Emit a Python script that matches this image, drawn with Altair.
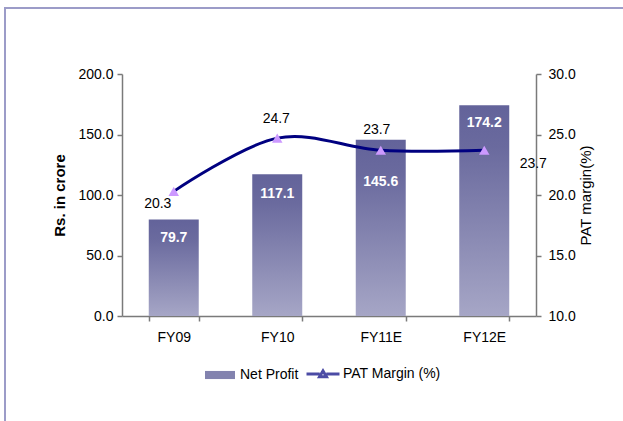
import altair as alt
import pandas as pd

# Yearly figures
categories = ["FY09", "FY10", "FY11E", "FY12E"]
net_profit = [79.7, 117.1, 145.6, 174.2]      # Rs. in crore
pat_margin = [20.3, 24.7, 23.7, 23.7]         # %

df = pd.DataFrame({"year": categories, "profit": net_profit, "margin": pat_margin})

FONT = "Liberation Sans"
AXIS_GREY = "#7a7a7a"
LINE_BLUE = "#000080"
MARKER = "#cc99ff"
BAR_TOP = "#63639a"
BAR_BOTTOM = "#a6a6c6"

bar_gradient = alt.Gradient(
    gradient="linear",
    stops=[
        alt.GradientStop(color=BAR_TOP, offset=0),
        alt.GradientStop(color="#6a6a9e", offset=0.2),
        alt.GradientStop(color=BAR_BOTTOM, offset=1),
    ],
    x1=0, x2=0, y1=0, y2=1,
)

x_enc = alt.X(
    "year:N",
    sort=categories,
    title=None,
    scale=alt.Scale(paddingInner=0.517, paddingOuter=0.2585),
    axis=alt.Axis(
        labelAngle=0, tickBand="extent", tickSize=5, labelPadding=9,
        labelFontSize=14, labelColor="black", domainColor=AXIS_GREY,
        tickColor=AXIS_GREY, domainWidth=1.5, tickWidth=1.5,
    ),
)

profit_scale = alt.Scale(domain=[0, 200])
margin_scale = alt.Scale(domain=[10, 30])

# ---- left axis: net profit bars ----
bars = alt.Chart(df).mark_bar(color=bar_gradient).encode(
    x=x_enc,
    y=alt.Y(
        "profit:Q", scale=profit_scale, title="Rs. in crore",
        axis=alt.Axis(
            values=[0, 50, 100, 150, 200], format=".1f", grid=False,
            tickSize=5, labelPadding=4, labelFontSize=14, labelColor="black",
            domainColor=AXIS_GREY, tickColor=AXIS_GREY, domainWidth=1.5, tickWidth=1.5,
            titleFontSize=15, titleFontWeight="bold", titleColor="black", titlePadding=10,
        ),
    ),
)

bar_label_dy = {"FY09": 18, "FY10": 20, "FY11E": 42, "FY12E": 18}
bar_labels = [
    alt.Chart(df).transform_filter(alt.datum.year == yr)
    .mark_text(color="white", fontWeight="bold", fontSize=14, baseline="middle", dy=d)
    .encode(x=x_enc, y=alt.Y("profit:Q", scale=profit_scale), text=alt.Text("profit:Q", format=".1f"))
    for yr, d in bar_label_dy.items()
]

bar_legend = alt.Chart(df).transform_filter("false").mark_bar().encode(
    fill=alt.Fill(
        "year:N",
        scale=alt.Scale(domain=["Net Profit"], range=["#8282ae"]),
        legend=alt.Legend(
            title=None, orient="none", legendX=83, legendY=286, padding=0,
            symbolType="M-1,-0.27H1V0.27H-1Z", symbolSize=900, symbolStrokeWidth=0,
            labelFontSize=14, labelOffset=5, labelColor="black",
        ),
    )
)

left = alt.layer(bars, *bar_labels, bar_legend)

# ---- right axis: PAT margin line ----
line = alt.Chart(df).mark_line(color=LINE_BLUE, strokeWidth=3, interpolate="cardinal").encode(
    x=x_enc,
    y=alt.Y(
        "margin:Q", scale=margin_scale, title="PAT margin(%)",
        axis=alt.Axis(
            orient="right", values=[10, 15, 20, 25, 30], format=".1f", grid=False,
            tickSize=5, labelPadding=7, labelFontSize=14, labelColor="black",
            domainColor=AXIS_GREY, tickColor=AXIS_GREY, domainWidth=1.5, tickWidth=1.5,
            titleFontSize=15, titleFontWeight="normal", titleColor="black",
            titleAngle=270, titlePadding=18,
        ),
    ),
)

points = alt.Chart(df).mark_point(shape="triangle-up", filled=True, color=MARKER, size=110, opacity=1).encode(
    x=x_enc, y=alt.Y("margin:Q", scale=margin_scale)
)

line_label_offsets = {"FY09": (-16, 13), "FY10": (-1, -19), "FY11E": (-4, -20), "FY12E": (49, 14)}
line_labels = [
    alt.Chart(df).transform_filter(alt.datum.year == yr)
    .mark_text(color="black", fontSize=14, baseline="middle", dx=dx, dy=dy)
    .encode(x=x_enc, y=alt.Y("margin:Q", scale=margin_scale), text=alt.Text("margin:Q", format=".1f"))
    for yr, (dx, dy) in line_label_offsets.items()
]

line_legend = alt.Chart(df).transform_filter("false").mark_point(filled=False).encode(
    stroke=alt.Stroke(
        "year:N",
        scale=alt.Scale(domain=["PAT Margin (%)"], range=[LINE_BLUE]),
        legend=alt.Legend(
            title=None, orient="none", legendX=183, legendY=282, padding=0,
            symbolType="M-1,0H-0.2M0.2,0H1M-0.21,0.17L0,-0.19L0.21,0.17Z",
            symbolSize=1089, symbolStrokeWidth=3, symbolFillColor=MARKER,
            labelFontSize=14, labelOffset=2, labelColor="black",
        ),
    )
)

right = alt.layer(line, points, *line_labels, line_legend)

# outer frame around the whole figure
frame = alt.Chart(pd.DataFrame({"k": [0]})).mark_rect(
    fill=None, stroke="#9c9cc8", strokeWidth=2, clip=False
).encode(
    x=alt.value(-117), x2=alt.value(560), y=alt.value(-66), y2=alt.value(400)
)

chart = alt.layer(frame, left, right).resolve_scale(
    y="independent", fill="independent", stroke="independent"
).properties(
    width=414, height=242,
    autosize=alt.AutoSizeParams(type="none"),
    padding={"left": 122, "top": 74, "right": 87, "bottom": 105},
    background="white",
).configure(font=FONT).configure_view(stroke=None)

chart.save("out.html", embed_options={"renderer": "svg", "actions": False})
